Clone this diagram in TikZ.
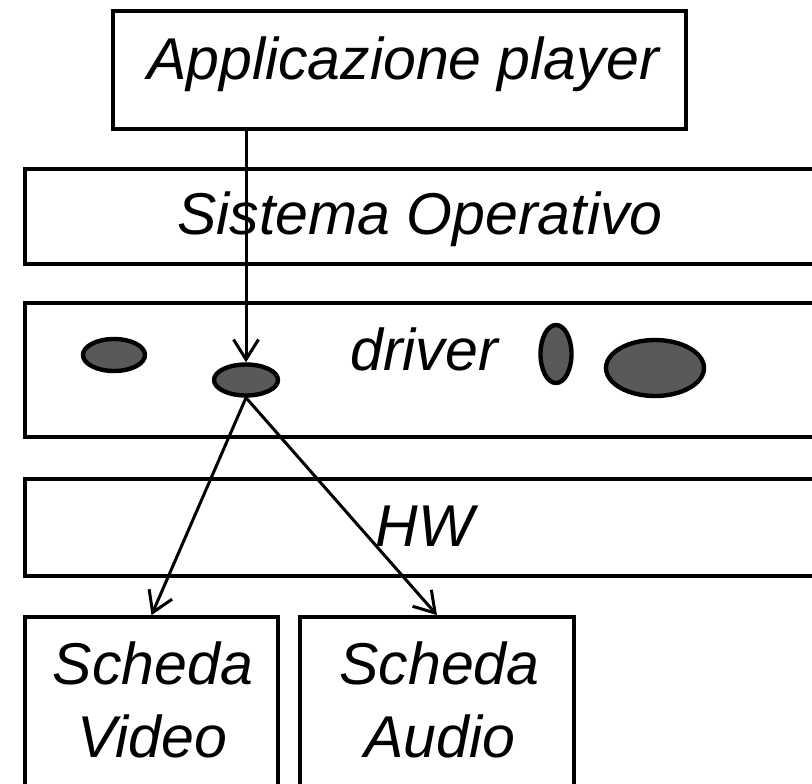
\documentclass[tikz,border=0pt]{standalone}
\usepackage{fontspec}
\setmainfont{Liberation Sans}
\usetikzlibrary{shapes.geometric,arrows.meta}
\definecolor{blobgray}{HTML}{595959}
\begin{document}
\begin{tikzpicture}[x=1pt,y=-1pt,
  layer/.style={draw=black,line width=3.7pt,fill=none,inner sep=0pt,
    minimum width=#1,rectangle},
  lbl/.style={inner sep=0pt,anchor=base,font=\fontsize{59}{72}\selectfont\itshape},
  blob/.style={ellipse,draw=black,line width=4.4pt,fill=blobgray,inner sep=0pt},
  arr/.style={line width=3pt,-{Straight Barb[length=20pt,width=25pt,line width=3pt]}}]
\clip (0,0) rectangle (812,784);
\useasboundingbox (0,0) rectangle (812,784);
% stacked layers
\node[layer=573pt,minimum height=118pt] (app) at (399.5,70) {};
\node[layer=815pt,minimum height=95pt] (os) at (432.5,216.5) {};
\node[layer=815pt,minimum height=134pt] (drv) at (432.5,370) {};
\node[layer=815pt,minimum height=97pt] (hw) at (432.5,527.5) {};
\node[layer=253pt,minimum height=183pt] (video) at (151.5,708.5) {};
\node[layer=274pt,minimum height=183pt] (audio) at (437,708.5) {};
% labels
\node[lbl] (appt) at (403,80) {Applicazione player};
\node[lbl] (ost) at (420,234) {Sistema Operativo};
\node[lbl] (drvt) at (424,370) {driver};
\node[lbl] (hwt) at (425,546) {HW};
\node[lbl] (vidt1) at (153,684) {Scheda};
\node[lbl] (vidt2) at (152.5,757) {Video};
\node[lbl] (audt1) at (439.5,684) {Scheda};
\node[lbl] (audt2) at (439.5,757) {Audio};
% driver modules
\node[blob,minimum width=62pt,minimum height=32pt] (e1) at (114,355) {};
\node[blob,minimum width=64pt,minimum height=31pt] (e2) at (246,380) {};
\node[blob,minimum width=31pt,minimum height=58pt] (e3) at (556,354) {};
\node[blob,minimum width=98pt,minimum height=56pt] (e4) at (655,368) {};
% calls
\draw[arr] (app.south -| e2) -- (e2.north);
\draw[arr] (e2.south) -- (video.north);
\draw[arr] (e2.south) -- (audio.north);
\end{tikzpicture}
\end{document}
